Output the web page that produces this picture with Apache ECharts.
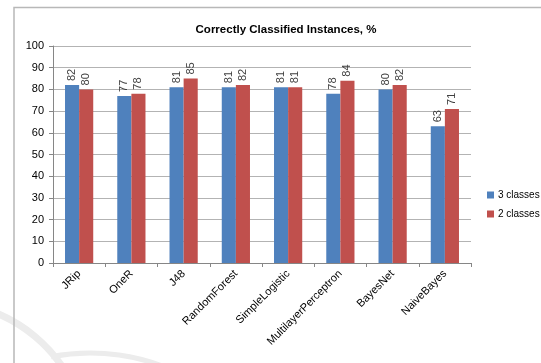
<!DOCTYPE html>
<html>
<head>
<meta charset="utf-8">
<script src="https://cdn.jsdelivr.net/npm/echarts@6/dist/echarts.min.js"></script>
<style>
html,body{margin:0;padding:0;background:#fff;}
#chart{width:541px;height:363px;}
</style>
</head>
<body>
<div id="chart"></div>
<script>
const categories = ['JRip','OneR','J48','RandomForest','SimpleLogistic','MultilayerPerceptron','BayesNet','NaiveBayes'];
const threeClasses = [82, 77, 81, 81, 81, 78, 80, 63];
const twoClasses = [80, 78, 85, 82, 81, 84, 82, 71];
const seriesNames = ['3 classes', '2 classes'];
const yTicks = [0, 10, 20, 30, 40, 50, 60, 70, 80, 90, 100];
const titleText = 'Correctly Classified Instances, %';

const FONT = 'Liberation Sans';
const chart = echarts.init(document.getElementById('chart'), null, {renderer: 'canvas'});

const labelCfg = {
  show: true,
  position: 'top',
  rotate: 90,
  align: 'left',
  verticalAlign: 'middle',
  distance: 4,
  color: '#404040',
  fontFamily: FONT,
  fontSize: 11
};

chart.setOption({
  animation: false,
  backgroundColor: '#ffffff',
  title: {
    text: titleText,
    left: 281,
    top: 19,
    textAlign: 'center',
    textStyle: {fontFamily: FONT, fontWeight: 'bold', fontSize: 11.5, color: '#000'}
  },
  legend: {
    orient: 'vertical',
    left: 482,
    top: 185,
    itemWidth: 7,
    itemHeight: 7,
    itemGap: 9,
    icon: 'rect',
    textStyle: {fontFamily: FONT, fontSize: 10, color: '#000', padding: [0, 0, 0, -1]},
    data: seriesNames
  },
  grid: {left: 53, right: 70, top: 46, bottom: 100, containLabel: false},
  xAxis: {
    type: 'category',
    data: categories,
    axisLine: {lineStyle: {color: '#868686', width: 1}},
    axisTick: {show: true, length: 4, lineStyle: {color: '#868686'}},
    axisLabel: {rotate: 45, fontFamily: FONT, fontSize: 11, color: '#000', margin: 9, interval: 0}
  },
  yAxis: {
    type: 'value',
    min: yTicks[0],
    max: yTicks[yTicks.length - 1],
    interval: 10,
    axisLine: {show: true, lineStyle: {color: '#868686', width: 1}},
    axisTick: {show: true, length: 4, lineStyle: {color: '#868686'}},
    axisLabel: {fontFamily: FONT, fontSize: 11, color: '#000', margin: 9},
    splitLine: {lineStyle: {color: '#b3b3b3', width: 1}}
  },
  series: [
    {
      name: seriesNames[0],
      type: 'bar',
      data: threeClasses,
      barGap: '0%',
      barCategoryGap: '46%',
      itemStyle: {color: '#4F81BD'},
      label: labelCfg
    },
    {
      name: seriesNames[1],
      type: 'bar',
      data: twoClasses,
      barGap: '0%',
      barCategoryGap: '46%',
      itemStyle: {color: '#C0504D'},
      label: labelCfg
    }
  ],
  graphic: [
    {type: 'arc', silent: true, z: -10,
     shape: {cx: -60, cy: 450, r: 148, startAngle: -1.25, endAngle: -0.5},
     style: {stroke: '#ececec', lineWidth: 7, fill: null}},
    {type: 'arc', silent: true, z: -10,
     shape: {cx: 90, cy: 560, r: 207, startAngle: -1.76, endAngle: -1.1},
     style: {stroke: '#ececec', lineWidth: 5, fill: null}},
    {type: 'polyline', silent: true, z: -5,
     shape: {points: [[14, 363], [14, 7.5], [541, 7.5]]},
     style: {stroke: '#b8b8b8', lineWidth: 1.5, fill: null}}
  ]
});
</script>
</body>
</html>
